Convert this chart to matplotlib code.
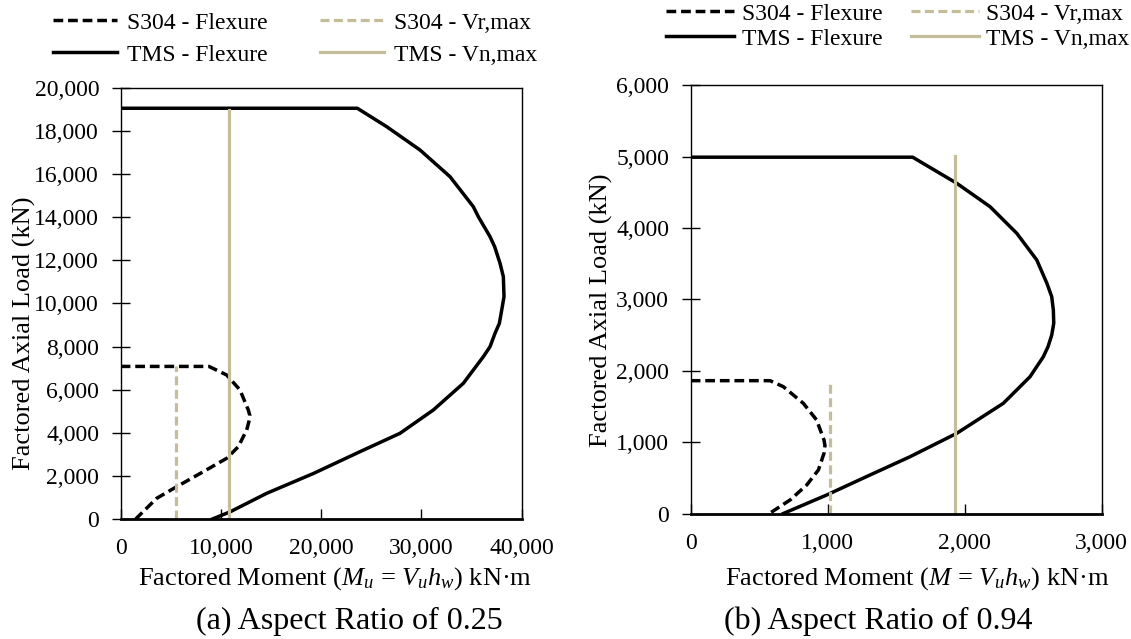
import matplotlib
matplotlib.use("Agg")
import matplotlib.pyplot as plt
from matplotlib.ticker import FuncFormatter, MultipleLocator

# ====== STYLE ======
plt.rcParams["font.family"] = ["Liberation Serif", "DejaVu Serif"]
plt.rcParams["mathtext.fontset"] = "custom"
plt.rcParams["mathtext.rm"] = "Liberation Serif"
plt.rcParams["mathtext.it"] = "Liberation Serif:italic"

TAN = "#C4BD97"
FS = 17        # legend / tick labels
FS_LAB = 19    # axis labels
DASH = (0, (2.8, 1.4))

# ====== DATA: (a) aspect ratio 0.25 ======
a_tms_m = [0, 23600, 26530, 29855, 32847, 35172, 35670, 36838, 37300, 37835,
           38167, 38233, 38005, 37770, 37337, 36838, 36170, 34175, 31182,
           27860, 23870, 19212, 14564, 10903, 9150]
a_tms_p = [19060, 19060, 18205, 17123, 15884, 14492, 14028, 13100, 12635, 11865,
           11243, 10316, 9698, 9081, 8617, 7996, 7531, 6296, 5058,
           3976, 3124, 2110, 1192, 330, 0]
a_s304_m = [0, 8800, 10573, 11900, 12730, 12880, 12830, 12568, 11730, 10573,
            8240, 5586, 3591, 1500]
a_s304_p = [7080, 7080, 6682, 5986, 5058, 4800, 4594, 4130, 3355, 2816,
            2195, 1499, 960, 0]
a_vr_m, a_vr_top = 5500, 7080
a_vn_m, a_vn_top = 10820, 19000

# ====== DATA: (b) aspect ratio 0.94 ======
b_tms_m = [0, 1620, 1942, 2185, 2380, 2526, 2600, 2635, 2647, 2650, 2635, 2608,
           2574, 2477, 2282, 1942, 1601, 1309, 992, 676]
b_tms_p = [4995, 4995, 4629, 4301, 3928, 3554, 3227, 3040, 2853, 2666, 2500, 2338,
           2198, 1918, 1545, 1124, 796, 540, 259, 0]
b_s304_m = [0, 579, 676, 822, 919, 973, 980, 973, 932, 847, 725, 574]
b_s304_p = [1862, 1862, 1778, 1545, 1311, 1030, 950, 844, 610, 400, 189, 0]
b_vr_m, b_vr_top = 1015, 1870
b_vn_m, b_vn_top = 1929, 5005

fmt = FuncFormatter(lambda v, p: f"{v:,.0f}")

fig = plt.figure(figsize=(11.31, 6.39), dpi=100)
ax1 = fig.add_axes([0.1067, 0.1878, 0.3546, 0.6745])
ax2 = fig.add_axes([0.6107, 0.1964, 0.3634, 0.6698])

panels = [
    (ax1, a_s304_m, a_s304_p, a_tms_m, a_tms_p, a_vr_m, a_vr_top, a_vn_m, a_vn_top),
    (ax2, b_s304_m, b_s304_p, b_tms_m, b_tms_p, b_vr_m, b_vr_top, b_vn_m, b_vn_top),
]

for ax, sm, sp, tm, tp, vrm, vrt, vnm, vnt in panels:
    ax.plot(sm, sp, color="black", lw=2.5, ls=DASH, label="S304 - Flexure",
            dash_joinstyle="round")
    ax.plot(tm, tp, color="black", lw=2.5, label="TMS - Flexure",
            solid_joinstyle="round")
    ax.plot([vrm, vrm], [0, vrt], color=TAN, lw=2.3, ls=DASH, label="S304 - Vr,max")
    ax.plot([vnm, vnm], [0, vnt], color=TAN, lw=2.3, label="TMS - Vn,max")
    ax.xaxis.set_major_formatter(fmt)
    ax.yaxis.set_major_formatter(fmt)
    ax.tick_params(axis="x", direction="in", length=7, width=1, pad=14, labelsize=FS)
    ax.tick_params(axis="y", direction="inout", length=13, width=1, pad=9, labelsize=FS)
    for s in ax.spines.values():
        s.set_linewidth(1.0)
    ax.spines["bottom"].set_linewidth(2.0)

# axis limits and ticks
ax1.set_xlim(0, 40000)
ax1.set_ylim(0, 20000)
ax1.xaxis.set_major_locator(MultipleLocator(10000))
ax1.yaxis.set_major_locator(MultipleLocator(2000))
ax2.set_xlim(0, 3000)
ax2.set_ylim(0, 6000)
ax2.xaxis.set_major_locator(MultipleLocator(1000))
ax2.yaxis.set_major_locator(MultipleLocator(1000))

# labels
ax1.set_xlabel("Factored Moment ($M_u$ = $V_u h_w$) kN·m", fontsize=FS_LAB)
ax1.xaxis.set_label_coords(0.534, -0.139)
ax1.xaxis.label.set_va("center")
ax2.set_xlabel("Factored Moment ($M$ = $V_u h_w$) kN·m", fontsize=FS_LAB)
ax2.xaxis.set_label_coords(0.551, -0.153)
ax2.xaxis.label.set_va("center")

ax1.set_ylabel("Factored Axial Load (kN)", fontsize=FS_LAB)
ax1.yaxis.set_label_coords(-0.241, 0.43)
ax1.yaxis.label.set_va("center")
ax2.set_ylabel("Factored Axial Load (kN)", fontsize=FS_LAB)
ax2.yaxis.set_label_coords(-0.218, 0.475)
ax2.yaxis.label.set_va("center")

# captions
fig.text(349 / 1131, 1 - 621 / 639, "(a) Aspect Ratio of 0.25", fontsize=23,
         ha="center", va="center")
fig.text(878 / 1131, 1 - 621 / 639, "(b) Aspect Ratio of 0.94", fontsize=23,
         ha="center", va="center")

# legends
ax1.legend(loc="upper left", bbox_to_anchor=(53 / 1131, 1 - 12 / 639),
           bbox_transform=fig.transFigure, ncol=2, frameon=False, fontsize=FS,
           handlelength=2.7, handletextpad=0.45, columnspacing=2.2,
           labelspacing=0.45, borderpad=0, borderaxespad=0)
ax2.legend(loc="upper left", bbox_to_anchor=(666 / 1131, 1 - 3 / 639),
           bbox_transform=fig.transFigure, ncol=2, frameon=False, fontsize=FS,
           handlelength=2.9, handletextpad=0.3, columnspacing=1.2,
           labelspacing=0.15, borderpad=0, borderaxespad=0)

fig.savefig("out.png", dpi=100)
